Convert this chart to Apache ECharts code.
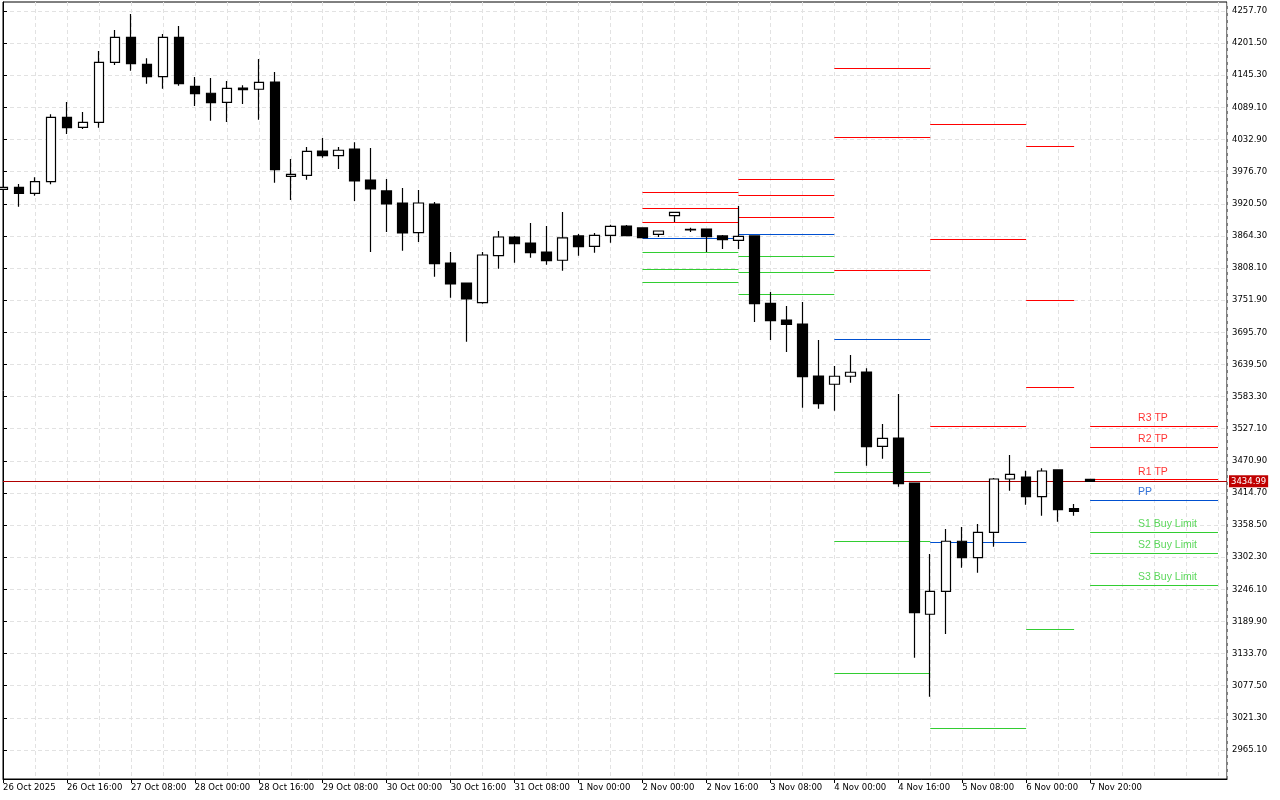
<!DOCTYPE html>
<html><head><meta charset="utf-8">
<script src="https://cdn.jsdelivr.net/npm/echarts@6/dist/echarts.min.js"></script>
<style>html,body{margin:0;padding:0;background:#fff}#c{width:1280px;height:800px}</style>
</head><body><div id="c"></div>
<script>
// candles: [index, open, close, low, high]
const candles = [
[0,3945.8,3949.3,3945.5,3949.9],[1,3949.3,3938.8,3915.4,3955.1],[2,3938.8,3959.1,3934.6,3966.8],
[3,3959.1,4071.8,3954.6,4077.0],[4,4071.8,4053.6,4042.6,4098.5],[5,4054.3,4063.0,4051.3,4081.0],
[6,4063.0,4168.0,4053.6,4187.7],[7,4168.0,4211.7,4163.3,4224.5],[8,4211.7,4165.5,4153.3,4252.5],
[9,4164.5,4142.8,4130.5,4175.0],[10,4142.8,4211.7,4121.8,4217.5],[11,4211.7,4130.5,4127.0,4231.5],
[12,4126.0,4113.1,4091.5,4142.3],[13,4113.8,4097.3,4065.8,4140.5],[14,4098.0,4122.5,4063.6,4135.3],
[15,4123.0,4120.1,4095.0,4127.7],[16,4120.8,4133.0,4067.6,4173.7],[17,4133.5,3980.1,3957.4,4151.0],
[18,3968.6,3972.1,3927.1,3998.8],[19,3970.3,4012.3,3962.6,4019.8],[20,4012.8,4004.6,4001.1,4035.6],
[21,4004.6,4014.1,3981.3,4019.8],[22,4016.3,3960.4,3925.4,4028.0],[23,3962.1,3946.4,3836.2,4018.1],
[24,3942.9,3920.1,3871.2,3963.9],[25,3921.9,3869.4,3838.4,3948.1],[26,3869.9,3921.9,3853.7,3944.6],
[27,3920.1,3815.7,3793.0,3923.6],[28,3816.9,3780.2,3756.2,3836.2],[29,3781.9,3754.0,3679.3,3781.9],
[30,3747.5,3830.9,3745.7,3836.2],[31,3829.7,3862.4,3807.0,3872.9],[32,3862.4,3850.7,3817.5,3864.2],
[33,3851.9,3834.9,3826.2,3886.9],[34,3836.2,3821.0,3814.0,3881.6],[35,3821.7,3860.7,3803.5,3906.1],
[36,3864.2,3845.4,3829.7,3867.7],[37,3846.1,3865.4,3834.9,3869.4],[38,3865.4,3881.1,3852.4,3883.9],
[39,3881.6,3864.7,3864.7,3883.4],[40,3878.2,3861.2,3861.2,3878.2],[41,3867.1,3872.9,3862.4,3872.9],
[42,3899.7,3905.6,3888.6,3905.6],[43,3875.9,3874.7,3871.2,3878.7],[44,3876.4,3862.9,3836.2,3876.4],
[45,3864.2,3857.7,3841.4,3865.9],[46,3856.6,3863.6,3841.4,3916.6],[47,3864.2,3745.7,3713.7,3864.2],
[48,3746.4,3716.0,3682.3,3766.2],[49,3717.2,3709.7,3661.3,3741.7],[50,3710.2,3618.1,3563.8,3748.7],
[51,3619.3,3570.8,3562.1,3682.3],[52,3604.8,3618.8,3558.6,3636.8],[53,3618.8,3625.8,3607.6,3656.0],
[54,3626.3,3495.6,3462.4,3632.8],[55,3496.3,3510.3,3474.6,3535.3],[56,3510.8,3430.9,3425.7,3587.8],
[57,3432.1,3205.3,3126.6,3432.1],[58,3202.5,3242.7,3058.3,3308.0],[59,3242.7,3330.2,3168.0,3351.7],
[60,3330.2,3301.5,3284.0,3355.2],[61,3301.5,3345.9,3275.2,3360.4],[62,3345.9,3439.1,3320.7,3440.9],
[63,3439.1,3447.3,3418.7,3481.1],[64,3442.6,3408.2,3394.2,3453.6],[65,3408.2,3453.1,3374.9,3457.8],
[66,3454.9,3385.4,3364.4,3454.9],[67,3387.2,3382.6,3374.9,3395.4],[68,3438.6,3435.0,3435.0,3439.1]
];
const lastPrice = 3434.99;
const xTickIdx = [0,4,8,12,16,20,24,28,32,36,40,44,48,52,56,60,64,68];
const xTickLabels = ['26 Oct 2025','26 Oct 16:00','27 Oct 08:00','28 Oct 00:00','28 Oct 16:00','29 Oct 08:00','30 Oct 00:00','30 Oct 16:00','31 Oct 08:00','1 Nov 00:00','2 Nov 00:00','2 Nov 16:00','3 Nov 08:00','4 Nov 00:00','4 Nov 16:00','5 Nov 08:00','6 Nov 00:00','7 Nov 20:00'];
const yTicks = [4257.70,4201.50,4145.30,4089.10,4032.90,3976.70,3920.50,3864.30,3808.10,3751.90,3695.70,3639.50,3583.30,3527.10,3470.90,3414.70,3358.50,3302.30,3246.10,3189.90,3133.70,3077.50,3021.30,2965.10];
// level segments: [startIdx, endIdx, value]
const resLevels = [
[40,46,3941.1],[40,46,3913.1],[40,46,3888.6],
[46,52,3963.3],[46,52,3935.3],[46,52,3896.9],
[52,58,4157.5],[52,58,4036.8],[52,58,3804.2],
[58,64,4059.5],[58,64,3858.4],[58,64,3531.3],
[64,67,4021.1],[64,67,3751.7],[64,67,3599.5],
[68,76,3531.3],[68,76,3494.6],[68,76,3437.9]];
const ppLevels = [[40,46,3860.7],[46,52,3867.1],[52,58,3683.5],[58,64,3328.4],[68,76,3401.9]];
const supLevels = [
[40,46,3836.2],[40,46,3806.4],[40,46,3783.7],
[46,52,3828.7],[46,52,3800.7],[46,52,3762.2],
[52,58,3450.8],[52,58,3330.2],[52,58,3099.3],
[58,64,3003.1],[64,67,3176.2],
[68,76,3345.9],[68,76,3309.1],[68,76,3253.1]];
const levelLabels = [
['R3 TP',3531.3,'#ff0000'],['R2 TP',3494.6,'#ff0000'],['R1 TP',3437.9,'#ff0000'],['PP',3401.9,'#0050d0'],
['S1 Buy Limit',3345.9,'#32cd32'],['S2 Buy Limit',3309.1,'#32cd32'],['S3 Buy Limit',3253.1,'#32cd32']];
const labelIdx = 71;

const RED='#ff0000', BLUE='#0050d0', GREEN='#32cd32';
function segs(arr){return arr.map(s=>({coords:[[s[0],s[2]],[s[1],s[2]]]}));}
function linesSeries(arr,color){return {type:'lines',coordinateSystem:'cartesian2d',polyline:false,silent:true,
  lineStyle:{color:color,width:1,opacity:1},data:segs(arr),z:3};}

const font='DejaVu Sans';
const chart = echarts.init(document.getElementById('c'),null,{renderer:'canvas'});
chart.setOption({
  animation:false,
  grid:{left:2,right:53,top:2,bottom:21,show:true,borderColor:'#000',borderWidth:1},
  xAxis:[{type:'value',min:0,max:76.5625,
    axisLine:{show:true,onZero:false,lineStyle:{color:'#000'}},
    axisTick:{show:true,customValues:xTickIdx,length:4,lineStyle:{color:'#000'}},
    axisLabel:{customValues:xTickIdx,formatter:v=>xTickLabels[xTickIdx.indexOf(Math.round(v))]||'',
      color:'#000',fontFamily:font,fontSize:8.5,align:'left',margin:4,showMinLabel:true,showMaxLabel:true},
    splitLine:{show:false}},
   {type:'value',min:0,max:76.5625,interval:2,show:true,position:'bottom',
    axisLine:{show:false},axisTick:{show:false},axisLabel:{show:false},
    splitLine:{show:true,lineStyle:{color:'#e2e2e2',type:[4,3],width:1}}}],
  yAxis:[{type:'value',position:'right',min:2914.37,max:4273.44,
    axisLine:{show:true,lineStyle:{color:'#000'}},
    axisTick:{show:true,customValues:yTicks,length:4,lineStyle:{color:'#000'}},
    axisLabel:{customValues:yTicks,formatter:v=>v.toFixed(2),color:'#000',fontFamily:font,fontSize:8.5,margin:5},
    splitLine:{show:true,lineStyle:{color:'#e2e2e2',type:[4,3],width:1}}}],
  series:[
    {type:'candlestick',xAxisIndex:0,data:candles,encode:{x:0,y:[1,2,3,4]},barWidth:10,clip:true,z:5,
      itemStyle:{color:'#ffffff',color0:'#000000',borderColor:'#000000',borderColor0:'#000000',borderWidth:1.2},
      markLine:{symbol:'none',silent:true,animation:false,
        lineStyle:{color:'#b00000',type:'solid',width:1},
        label:{show:true,position:'end',formatter:'3434.99',color:'#fff',backgroundColor:'#c00000',
          fontFamily:font,fontSize:8.5,padding:[2,2,1,2],distance:2},
        data:[{yAxis:lastPrice}]}},
    linesSeries(resLevels,RED),linesSeries(ppLevels,BLUE),linesSeries(supLevels,GREEN),
    {type:'scatter',symbolSize:0,silent:true,z:6,
      data:levelLabels.map(l=>({value:[labelIdx,l[1]],name:l[0],
        label:{show:true,formatter:l[0],position:'right',distance:0,offset:[0,-8],color:l[2],
          fontFamily:'Liberation Sans',fontSize:10.5}}))}
  ]
});
</script></body></html>
